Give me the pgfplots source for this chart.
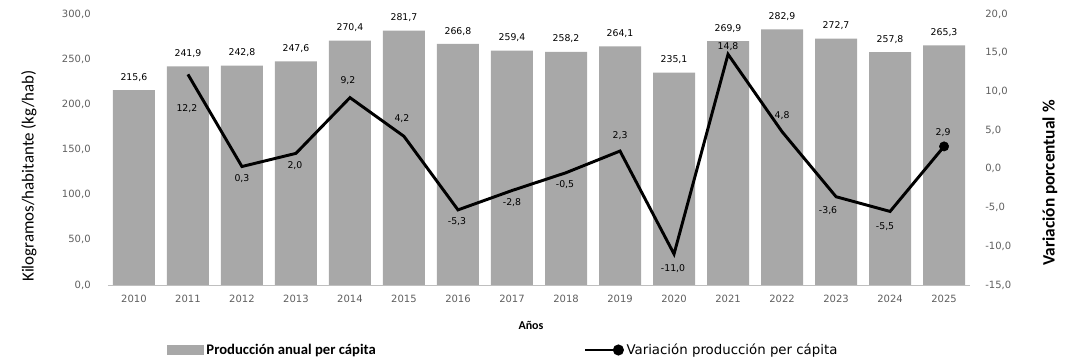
\documentclass[border=0pt]{standalone}
\usepackage{pgfplots}
\pgfplotsset{compat=1.18}
\usepackage{pgfplotstable}
\usepackage{fontspec}
\setmainfont{Carlito}
\newfontfamily\dv{DejaVu Sans}
\definecolor{bargray}{RGB}{168,168,168}
\definecolor{tickgray}{RGB}{95,95,95}

\pgfplotstableread{
x  y
0  215.6
1  241.9
2  242.8
3  247.6
4  270.4
5  281.7
6  266.8
7  259.4
8  258.2
9  264.1
10 235.1
11 269.9
12 282.9
13 272.7
14 257.8
15 265.3
}\barsdata

\pgfplotstableread{
x  y     dx    dy
1  12.2  -0.75 -25.5
2  0.3   0     -9
3  2.0   -0.75 -9
4  9.2   -1.5  12.75
5  4.2   -1.5  13.5
6  -5.3  -0.75 -9
7  -2.8  0     -9
8  -0.5  -0.75 -9
9  2.3   0     11.25
10 -11.0 -0.75 -11.25
11 14.8  0     6
12 4.8   0     12
13 -3.6  -6    -10.5
14 -5.5  -3.75 -11.25
15 2.9   -0.75 10.5
}\vardata

\begin{document}
\begin{tikzpicture}
\useasboundingbox (-81pt,-55.5pt) rectangle (725.25pt,213.75pt);
\begin{axis}[
  at={(0,0)}, anchor=south west,
  scale only axis, width=646.5pt, height=203.25pt,
  xmin=-0.48, xmax=15.48, ymin=0, ymax=300,
  ybar, bar width=31.5pt,
  axis x line*=bottom, axis y line*=left,
  x axis line style={draw=black!25,-},
  y axis line style={draw=none},
  major tick length=0pt,
  xtick={0,...,15},
  xticklabels={2010,2011,2012,2013,2014,2015,2016,2017,2018,2019,2020,2021,2022,2023,2024,2025},
  ytick={0,50,...,300},
  /pgf/number format/.cd, fixed, fixed zerofill, precision=1, use comma, assume math mode=true,
  /pgfplots/.cd,
  ticklabel style={font=\dv\fontsize{7.5}{9}\selectfont, text=tickgray},
  yticklabel style={xshift=-9.5pt},
  xticklabel style={yshift=-4pt},
  ylabel={Kilogramos/habitante (kg/hab)},
  every axis y label/.style={at={(axis description cs:-0.0917,0.4022)}, rotate=90, anchor=center, font=\fontsize{12.7}{14}\selectfont},
  xlabel={\textbf{Años}},
  every axis x label/.style={at={(axis description cs:0.4907,-0.1476)}, anchor=center, font=\fontsize{9}{10}\selectfont},
  nodes near coords={\pgfmathprintnumber[fixed,fixed zerofill,precision=1,use comma,assume math mode=true]{\pgfplotspointmeta}},
  every node near coord/.append style={font=\dv\fontsize{7}{8}\selectfont, text=black, yshift=3pt},
]
\addplot[fill=bargray, draw=none] table[x=x,y=y] {\barsdata};
\end{axis}
\begin{axis}[
  at={(0,0)}, anchor=south west,
  scale only axis, width=646.5pt, height=203.25pt,
  xmin=-0.48, xmax=15.48, ymin=-15, ymax=20,
  axis x line=none, axis y line*=right,
  y axis line style={draw=none},
  major tick length=0pt,
  ytick={-15,-10,...,20},
  /pgf/number format/.cd, fixed, fixed zerofill, precision=1, use comma, assume math mode=true,
  /pgfplots/.cd,
  yticklabel style={font=\dv\fontsize{7.5}{9}\selectfont, text=tickgray, anchor=west, xshift=8pt},
  ylabel={\textbf{Variación porcentual \%}},
  every axis y label/.style={at={(axis description cs:1.0928,0.3764)}, rotate=90, anchor=center, font=\fontsize{13}{15}\selectfont},
  legend columns=2,
  legend style={draw=none, fill=none, at={(axis description cs:0.0638,-0.2399)}, anchor=west,
    /tikz/every even column/.append style={column sep=154pt}},
]
\addlegendimage{legend image code/.code={\fill[bargray] (0pt,-3.5pt) rectangle (27pt,3.5pt);}}
\addlegendentry{\fontsize{11}{13}\selectfont\textbf{Producción anual per cápita}}
\addplot[black, line width=2.2pt, no marks,
  nodes near coords={\pgfmathprintnumber[fixed,fixed zerofill,precision=1,use comma,assume math mode=true]{\pgfplotspointmeta}},
  visualization depends on={\thisrow{dx}\as\dx},
  visualization depends on={\thisrow{dy}\as\dy},
  every node near coord/.append style={font=\dv\fontsize{7}{8}\selectfont, text=black, anchor=center, xshift=\dx pt, yshift=\dy pt},
  legend image code/.code={\draw[black, line width=2pt] (0pt,0pt) -- (25pt,0pt); \fill[black] (25pt,0pt) circle (3pt);}
] table[x=x,y=y] {\vardata};
\addlegendentry{\dv\fontsize{10}{12}\selectfont Variación producción per cápita}
\addplot[black, only marks, mark=*, mark size=3.5pt, forget plot] coordinates {(15,2.9)};
\end{axis}
\end{tikzpicture}
\end{document}
